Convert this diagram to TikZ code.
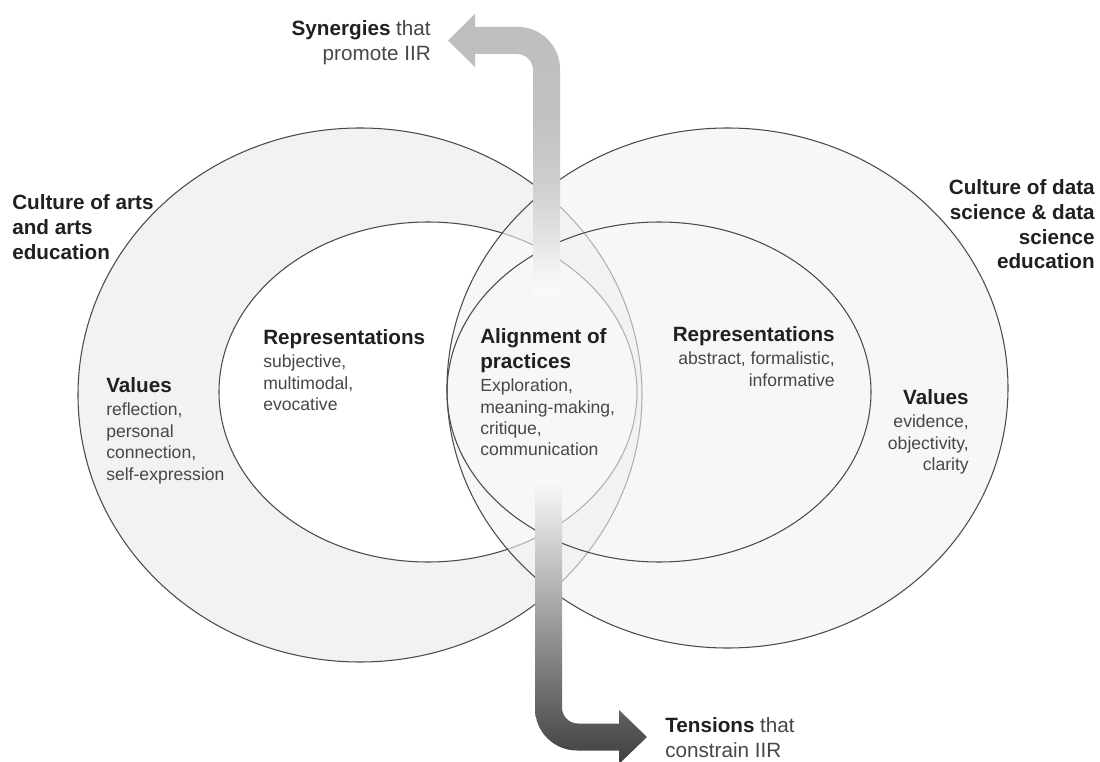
\documentclass[tikz,border=0pt]{standalone}
\usepackage{fontspec}
\setmainfont{Liberation Sans}
\definecolor{edge}{HTML}{4A4A4A}
\definecolor{ringL}{HTML}{F2F2F2}
\definecolor{ringR}{HTML}{F3F3F3}
\definecolor{headc}{HTML}{202020}
\definecolor{bodyc}{HTML}{474747}
\definecolor{sA}{HTML}{BDBDBD}
\definecolor{sB}{HTML}{C2C2C2}
\definecolor{sC}{HTML}{CDCDCD}
\definecolor{sD}{HTML}{E0E0E0}
\definecolor{sE}{HTML}{F2F2F2}
\definecolor{sF}{HTML}{FBFBFB}
\definecolor{tTop}{HTML}{FAFAFA}
\definecolor{tBot}{HTML}{3E3E3E}
\pgfdeclareverticalshading{synshade}{100bp}{color(0bp)=(sF); color(25bp)=(sF); color(29.8bp)=(sE); color(36.8bp)=(sD); color(45.7bp)=(sC); color(56.3bp)=(sB); color(75bp)=(sA); color(100bp)=(sA)}
\newcommand{\hdt}[1]{{\fontsize{14.7}{17.7}\selectfont\bfseries\color{headc}#1}}
\tikzset{
  ringline/.style={draw=edge, line width=0.75pt},
  hd/.style={font=\fontsize{14.7}{17.7}\selectfont\bfseries, text=headc, inner sep=0pt},
  blk/.style={font=\fontsize{12.5}{15.25}\selectfont, text=bodyc, inner sep=0pt},
  lbl/.style={font=\fontsize{14.7}{17.6}\selectfont, text=bodyc, inner sep=0pt}
}
\begin{document}
\begin{tikzpicture}[x=0.025cm, y=-0.025cm]
\useasboundingbox (0,0) rectangle (1100,762);
\fill[white] (0,0) rectangle (1100,762);
% left culture
\path[ringline, fill=ringL] (360,395) ellipse [x radius=282, y radius=267];
\path[ringline, fill=white] (428,392) ellipse [x radius=209, y radius=170];
% right culture (semi-transparent over the left)
\fill[ringR, fill opacity=0.6] (727.5,388) ellipse [x radius=280.5, y radius=260];
\draw[ringline] (727.5,388) ellipse [x radius=280.5, y radius=260];
\draw[ringline] (659,392) ellipse [x radius=212, y radius=170];

% arrows
\path[shading=synshade] (533,297) -- (533,70) .. controls (533,61.16) and (525.84,54) .. (517,54)
  -- (475,54) -- (475,67) -- (448,40.5) -- (475,14) -- (475,27) -- (518,27)
  .. controls (541.2,27) and (560,45.8) .. (560,69) -- (560,297) -- cycle;
\path[top color=tTop, bottom color=tBot] (535,480) -- (562,480) -- (562,707.5)
  .. controls (562,716.34) and (569.16,723.5) .. (578,723.5) -- (619,723.5) -- (619,710)
  -- (647,737) -- (619,764) -- (619,750.5) -- (577,750.5)
  .. controls (553.8,750.5) and (535,731.7) .. (535,708.5) -- cycle;

% labels
\node[hd, anchor=north west, align=left] (cultA) at (12,194.5)
  {Culture of arts\\and arts\\education};
\node[hd, anchor=north east, align=right] (cultD) at (1095,179)
  {Culture of data\\science \& data\\science\\education};
\node[lbl, anchor=north east, align=right] (syn) at (431,20)
  {\textbf{\color{headc}Synergies} that\\promote IIR};
\node[lbl, anchor=north west, align=left] (ten) at (665,717)
  {\textbf{\color{headc}Tensions} that\\constrain IIR};
\node[blk, anchor=north west, align=left] (valA) at (106,377)
  {\hdt{Values}\\[1.45pt]reflection,\\personal\\connection,\\self-expression};
\node[blk, anchor=north west, align=left] (repA) at (263,329)
  {\hdt{Representations}\\[1.45pt]subjective,\\multimodal,\\evocative};
\node[blk, anchor=north west, align=left] (align) at (480,328)
  {\hdt{Alignment of}\\[2.45pt]\hdt{practices}\\[1.45pt]Exploration,\\meaning-making,\\critique,\\communication};
\node[blk, anchor=north east, align=right] (repD) at (835,326)
  {\hdt{Representations}\\[1.45pt]abstract, formalistic,\\informative};
\node[blk, anchor=north east, align=right] (valD) at (969,389)
  {\hdt{Values}\\[1.45pt]evidence,\\objectivity,\\clarity};
\end{tikzpicture}
\end{document}
